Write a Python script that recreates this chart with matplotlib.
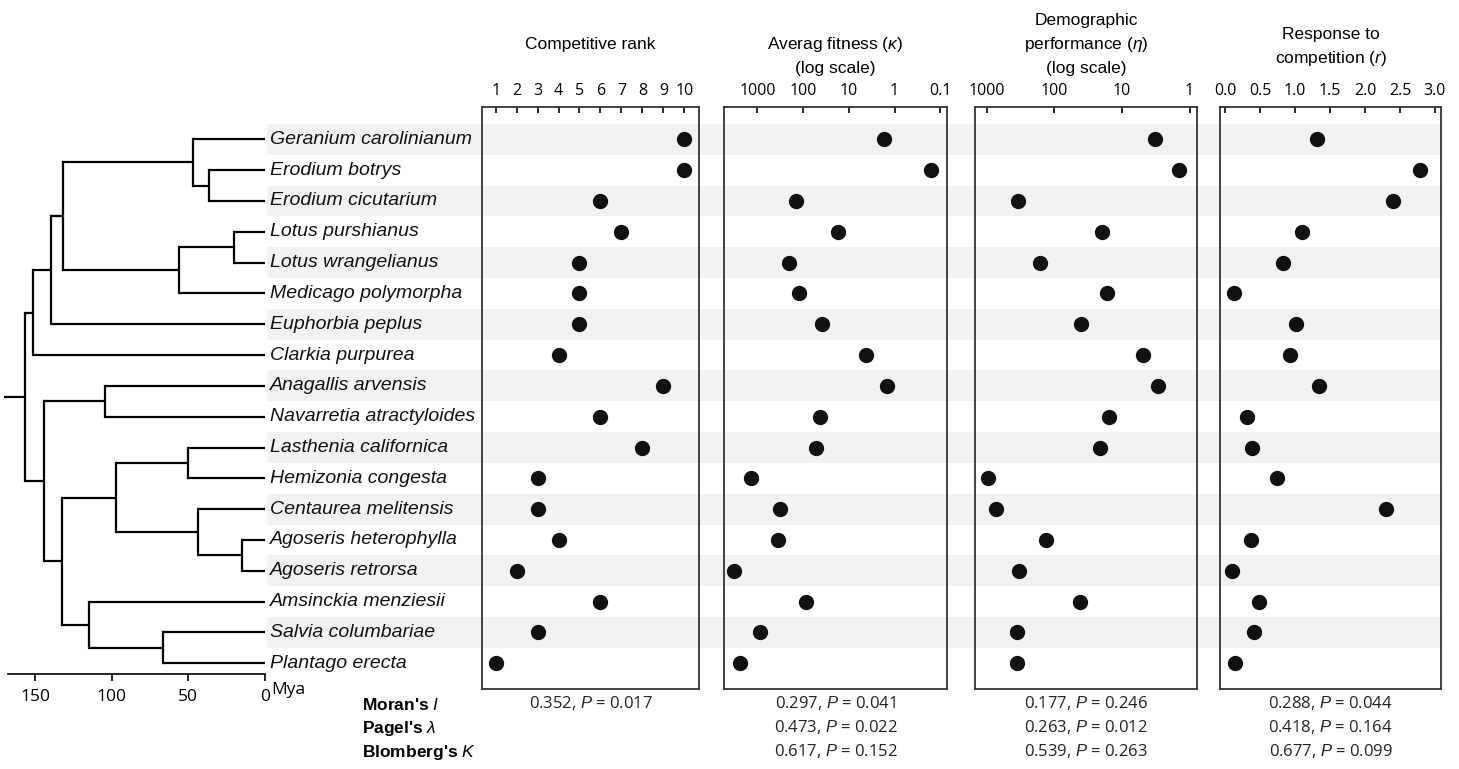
import numpy as np
import matplotlib
matplotlib.use("Agg")
import matplotlib.pyplot as plt
from matplotlib.ticker import FixedLocator, FixedFormatter

plt.rcParams['font.family'] = ['Liberation Sans', 'DejaVu Sans']
plt.rcParams['mathtext.fontset'] = 'custom'
plt.rcParams['mathtext.rm'] = 'Liberation Sans'
plt.rcParams['mathtext.it'] = 'Liberation Sans:italic'

species = ["Geranium carolinianum", "Erodium botrys", "Erodium cicutarium",
           "Lotus purshianus", "Lotus wrangelianus", "Medicago polymorpha",
           "Euphorbia peplus", "Clarkia purpurea", "Anagallis arvensis",
           "Navarretia atractyloides", "Lasthenia californica", "Hemizonia congesta",
           "Centaurea melitensis", "Agoseris heterophylla", "Agoseris retrorsa",
           "Amsinckia menziesii", "Salvia columbariae", "Plantago erecta"]

rank = [10, 10, 6, 7, 5, 5, 5, 4, 9, 6, 8, 3, 3, 4, 2, 6, 3, 1]
fitness = [1.73, 0.16, 145, 17.3, 203, 124, 39.5, 4.3, 1.48,
           43.7, 52.6, 1355, 325, 359, 3260, 88.5, 859, 2443]
demog = [3.2, 1.45, 340, 19.6, 164, 16.9, 40, 4.95, 2.97,
         15.3, 21.2, 966, 721, 131, 329, 41.9, 356, 352]
response = [1.31, 2.79, 2.40, 1.10, 0.83, 0.13, 1.02, 0.93, 1.34,
            0.32, 0.39, 0.74, 2.30, 0.37, 0.10, 0.48, 0.42, 0.15]

# tree nodes: name -> (age in Mya, child, child); children are tip indices or node names
tree_nodes = {
    "erod": (36.5, 1, 2),
    "geran": (47, 0, "erod"),
    "lotus": (20.2, 3, 4),
    "fab": (56, "lotus", 5),
    "gf": (131.7, "geran", "fab"),
    "euph": (139.6, "gf", 6),
    "rosid": (151.3, "euph", 7),
    "eric": (104.3, 8, 9),
    "lh": (50.2, 10, 11),
    "ago": (15, 13, 14),
    "ca": (43.7, 12, "ago"),
    "aster": (97.2, "lh", "ca"),
    "sp": (66.5, 16, 17),
    "lam": (114.8, 15, "sp"),
    "al": (132.4, "aster", "lam"),
    "asterid": (144.1, "eric", "al"),
    "root": (156.5, "rosid", "asterid"),
}
root_stub = 169.6

stats_labels = ["Moran's $I$", "Pagel's $\\lambda$", "Blomberg's $K$"]
stats_values = [
    ["0.352, $P$ = 0.017"],
    ["0.297, $P$ = 0.041", "0.473, $P$ = 0.022", "0.617, $P$ = 0.152"],
    ["0.177, $P$ = 0.246", "0.263, $P$ = 0.012", "0.539, $P$ = 0.263"],
    ["0.288, $P$ = 0.044", "0.418, $P$ = 0.164", "0.677, $P$ = 0.099"],
]

W, H = 1459, 769
fig = plt.figure(figsize=(W / 100, H / 100), dpi=100)


def box(x0, y0, x1, y1):
    return [x0 / W, 1 - y1 / H, (x1 - x0) / W, (y1 - y0) / H]


row0, dy = 139.3, 30.82
top_px, bot_px = 107, 689


def ylim_for(y0, y1):
    return ((y1 - row0) / dy, (y0 - row0) / dy)


n = len(species)

# background stripes
bg = fig.add_axes(box(267, top_px, 1441, bot_px), zorder=0)
bg.set_xlim(0, 1)
bg.set_ylim(*ylim_for(top_px, bot_px))
for i in range(0, n, 2):
    bg.axhspan(i - 0.5, i + 0.5, color='#f2f2f2', lw=0)
bg.axis('off')

# tree
tr = fig.add_axes(box(0, top_px, 265, 674), zorder=2)
tr.set_facecolor('none')
tr.set_xlim(265 / 1.5333, 0)
tr.set_ylim(*ylim_for(top_px, 674))
ypos = {}


def node_y(key):
    if isinstance(key, int):
        return key
    if key in ypos:
        return ypos[key]
    age, a, b = tree_nodes[key]
    ya, yb = node_y(a), node_y(b)
    ypos[key] = (ya + yb) / 2
    return ypos[key]


def node_age(key):
    return 0 if isinstance(key, int) else tree_nodes[key][0]


lw_tree = 1.6
for key, (age, a, b) in tree_nodes.items():
    ya, yb = node_y(a), node_y(b)
    tr.plot([age, age], [ya, yb], color='black', lw=lw_tree, solid_capstyle='projecting')
    tr.plot([age, node_age(a)], [ya, ya], color='black', lw=lw_tree, solid_capstyle='butt')
    tr.plot([age, node_age(b)], [yb, yb], color='black', lw=lw_tree, solid_capstyle='butt')
tr.plot([root_stub, tree_nodes["root"][0]], [node_y("root")] * 2, color='black', lw=lw_tree)

for i, sp in enumerate(species):
    tr.text(-3, i, sp, style='italic', fontsize=14, va='center', ha='left',
            color='#111111', clip_on=False)

for s in ['top', 'left', 'right']:
    tr.spines[s].set_visible(False)
tr.spines['bottom'].set_bounds(167.6, 0)
tr.spines['bottom'].set_linewidth(1.2)
tr.set_yticks([])
tr.set_xticks([150, 100, 50, 0])
tr.set_xticklabels(['150', '100', '50', '0'], fontfamily='Open Sans')
tr.tick_params(axis='x', direction='out', length=5, width=1.2, labelsize=12.5, pad=6)
fig.text(271 / W, 1 - 690 / H, "Mya", fontfamily='Open Sans', fontsize=12.5,
         ha='left', va='center')

# panels
panels = [
    dict(x=(482, 699), data=rank, scale='linear', xlim=(0.35, 10.7),
         ticks=list(range(1, 11)), labels=[str(v) for v in range(1, 11)]),
    dict(x=(724, 947), data=fitness, scale='log', xlim=(10 ** 3.732, 10 ** -1.147),
         ticks=[1000, 100, 10, 1, 0.1], labels=['1000', '100', '10', '1', '0.1']),
    dict(x=(975, 1197), data=demog, scale='log', xlim=(10 ** 3.173, 10 ** -0.11),
         ticks=[1000, 100, 10, 1], labels=['1000', '100', '10', '1']),
    dict(x=(1220, 1441), data=response, scale='linear', xlim=(-0.071, 3.086),
         ticks=[0, 0.5, 1, 1.5, 2, 2.5, 3], labels=['0.0', '0.5', '1.0', '1.5', '2.0', '2.5', '3.0']),
]
titles = [
    ["Competitive rank"],
    ["Averag fitness $\\mathit{(\\kappa)}$", "(log scale)"],
    ["Demographic", "performance $\\mathit{(\\eta)}$", "(log scale)"],
    ["Response to", "competition $\\mathit{(r)}$"],
]
title_y = [[45], [44, 69], [21, 45, 69], [34, 58]]

for p, ttl, ty, vals in zip(panels, titles, title_y, stats_values):
    x0, x1 = p['x']
    ax = fig.add_axes(box(x0, top_px, x1, bot_px), zorder=1)
    ax.set_facecolor('none')
    ax.set_xscale(p['scale'])
    ax.set_xlim(*p['xlim'])
    ax.set_ylim(*ylim_for(top_px, bot_px))
    ax.plot(p['data'], range(n), 'o', color='#111111', ms=10, mec='#111111')
    ax.xaxis.tick_top()
    ax.xaxis.set_major_locator(FixedLocator(p['ticks']))
    ax.xaxis.set_major_formatter(FixedFormatter(p['labels']))
    ax.xaxis.set_minor_locator(FixedLocator([]))
    ax.tick_params(axis='x', direction='in', length=4, width=1.2, labelsize=11.5, pad=6)
    for lab in ax.get_xticklabels():
        lab.set_fontfamily('Open Sans')
    ax.set_yticks([])
    for s in ax.spines.values():
        s.set_linewidth(1.3)
        s.set_color('#333333')
    cx = (x0 + x1) / 2
    for line, yy in zip(ttl, ty):
        fig.text(cx / W, 1 - yy / H, line, ha='center', va='center', fontsize=12.5)
    for j, v in enumerate(vals):
        fig.text(cx / W, 1 - (703 + 24 * j) / H, v, ha='center', va='center',
                 fontsize=12, color='#222222', fontfamily='Open Sans')

for j, lab in enumerate(stats_labels):
    fig.text(362 / W, 1 - (705 + 24 * j) / H, lab, ha='left', va='center',
             fontsize=12.5, fontweight='bold')

fig.savefig("out.png", dpi=100)
